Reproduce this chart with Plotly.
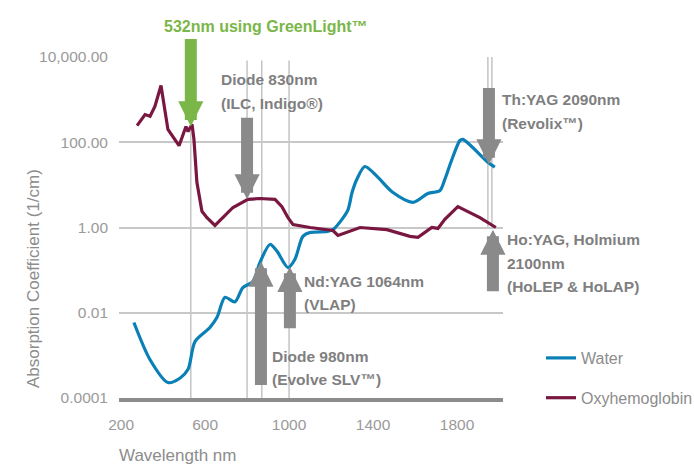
import plotly.graph_objects as go

# ---------------- data ----------------
wavelength_water = [261, 338, 423, 480, 519, 552, 623, 657, 695, 742, 780, 828, 861, 909, 942, 995, 1028,
                    1066, 1100, 1181, 1209, 1252, 1281, 1300, 1323, 1361, 1419, 1495, 1590, 1661, 1719,
                    1742, 1776, 1814, 1828, 1947, 1980]
water = [0.0059, 0.00079, 0.00023, 0.00029, 0.00047, 0.0021, 0.0045, 0.0078, 0.023, 0.018, 0.039, 0.054,
         0.15, 0.40, 0.28, 0.115, 0.18, 0.62, 0.76, 0.81, 0.89, 1.55, 2.63, 6.6, 13.5, 27, 15.8, 6.6, 3.9,
         6.3, 7.4, 13.5, 40, 110, 117, 34, 26]

wavelength_hb = [276, 314, 338, 361, 390, 409, 423, 476, 509, 519, 538, 547, 561, 585, 609, 647, 685, 733,
                 804, 861, 933, 966, 995, 1019, 1100, 1209, 1233, 1338, 1466, 1576, 1614, 1680, 1709, 1742,
                 1804, 1861, 1909, 1985]
oxyhemoglobin = [245, 447, 407, 692, 2140, 501, 200, 83, 234, 178, 263, 117, 11.5, 2.4, 1.7, 1.12, 1.7,
                 2.95, 4.57, 4.79, 4.57, 3.09, 1.70, 1.17, 1.0, 0.85, 0.65, 1.0, 0.89, 0.62, 0.59, 1.0, 0.95,
                 1.55, 3.09, 2.24, 1.70, 1.0]

x_ticks = [200, 600, 1000, 1400, 1800]
y_ticks = [10000, 100, 1, 0.01, 0.0001]
y_tick_labels = ["10,000.00", "100.00", "1.00", "0.01", "0.0001"]

# laser wavelength marker lines (full height) and short lines near 2090/2100
laser_lines_full = [532, 800, 870, 1000]
laser_lines_short = [1947, 1966]

# arrow annotations: (wavelength, log10 value at tip, tail offset px, colour)
arrows = [
    (532, 2.37, -89, "#7ab648"),
    (800, 0.66, -83, "#8a8a8a"),
    (1952, 1.48, -78, "#8a8a8a"),
    (1971, -0.05, 63, "#8a8a8a"),
    (866, -0.80, 125, "#8a8a8a"),
    (1004, -0.92, 63, "#8a8a8a"),
]

FONT = "Liberation Sans, Arial, sans-serif"
L, R, T, B = 119, 191, 57, 68
W, H = 694, 466
PW, PH = W - L - R, H - T - B


def px(xp):
    return (xp - L) / PW


def py(yp):
    return (H - B - yp) / PH


fig = go.Figure()
fig.add_trace(go.Scatter(x=wavelength_water, y=water, name="Water", mode="lines",
                         line=dict(color="#0a80b6", width=3.2, shape="spline", smoothing=0.8),
                         legendgroup="a"))
fig.add_trace(go.Scatter(x=wavelength_hb, y=oxyhemoglobin, name="Oxyhemoglobin", mode="lines",
                         line=dict(color="#7a1740", width=3.2), legendgroup="b"))

shapes = []
for xv in laser_lines_full:
    shapes.append(dict(type="line", xref="x", yref="paper", x0=xv, x1=xv, y0=0, y1=0.99,
                       line=dict(color="#c4c4c4", width=1.5), layer="below"))
for xv in laser_lines_short:
    shapes.append(dict(type="line", xref="x", yref="paper", x0=xv, x1=xv, y0=0.5, y1=1,
                       line=dict(color="#c4c4c4", width=1.5), layer="below"))

annotations = []
for xv, ly, ay, col in arrows:
    annotations.append(dict(x=xv, y=ly, xref="x", yref="y", text="", showarrow=True,
                            ax=0, ay=ay, arrowhead=2, arrowwidth=12, arrowsize=0.42,
                            arrowcolor=col, standoff=0))

# text lines: (text, left px, centre y px, colour, size)
GREEN, GREY = "#7ab648", "#7f7f7f"
text_lines = [
    ("532nm using GreenLight™", 162, 25, GREEN, 16),
    ("Diode 830nm", 219, 78, GREY, 15.5),
    ("(ILC, Indigo®)", 219, 102, GREY, 15.5),
    ("Th:YAG 2090nm", 500, 98, GREY, 15.5),
    ("(Revolix™)", 500, 122, GREY, 15.5),
    ("Ho:YAG, Holmium", 505, 238, GREY, 15.5),
    ("2100nm", 505, 262, GREY, 15.5),
    ("(HoLEP &amp; HoLAP)", 505, 285, GREY, 15.5),
    ("Diode 980nm", 270, 355, GREY, 15.5),
    ("(Evolve SLV™)", 270, 378, GREY, 15.5),
    ("Nd:YAG 1064nm", 302, 280, GREY, 15.5),
    ("(VLAP)", 302, 303, GREY, 15.5),
]
for t, xp, yp, col, fs in text_lines:
    annotations.append(dict(text=t, x=px(xp), y=py(yp + 1), xref="paper", yref="paper",
                            xanchor="left", yanchor="middle", align="left", showarrow=False,
                            font=dict(family=FONT, size=fs, color=col, weight="bold")))

annotations.append(dict(text="Wavelength nm", x=px(177), y=py(455), xref="paper", yref="paper",
                        xanchor="center", yanchor="middle", showarrow=False,
                        font=dict(family=FONT, size=17, color="#8c8c8c")))
annotations.append(dict(text="Absorption Coefficient (1/cm)", x=px(33), y=py(279), xref="paper",
                        yref="paper", xanchor="center", yanchor="middle", textangle=-90,
                        showarrow=False, font=dict(family=FONT, size=17, color="#8c8c8c")))

fig.update_layout(
    width=W, height=H,
    margin=dict(l=L, r=R, t=T, b=B, autoexpand=False),
    paper_bgcolor="white", plot_bgcolor="white",
    font=dict(family=FONT, size=15, color="#999999"),
    shapes=shapes, annotations=annotations,
    showlegend=True,
    legend=dict(x=px(541), y=py(341), xanchor="left", yanchor="top",
                font=dict(family=FONT, size=16, color="#8c8c8c"),
                tracegroupgap=16, bgcolor="rgba(0,0,0,0)"),
    xaxis=dict(range=[190, 2019], tickvals=x_ticks, ticktext=[str(v) for v in x_ticks],
               showgrid=False, zeroline=False, showline=True, linecolor="#8c8c8c", linewidth=3.5,
               ticks="", tickfont=dict(size=15.5, color="#9a9a9a"), ticklabelstandoff=10),
    yaxis=dict(type="log", range=[-4, 4], tickvals=y_ticks, ticktext=y_tick_labels,
               showgrid=True, gridcolor="#c8c8c8", gridwidth=1.5, zeroline=False, showline=False,
               ticks="", tickfont=dict(size=15.5, color="#9a9a9a"), ticklabelstandoff=10),
)

fig.write_html("out.html", config={"displayModeBar": False},
               post_script="document.body.style.margin='0';document.body.style.overflow='hidden';")
